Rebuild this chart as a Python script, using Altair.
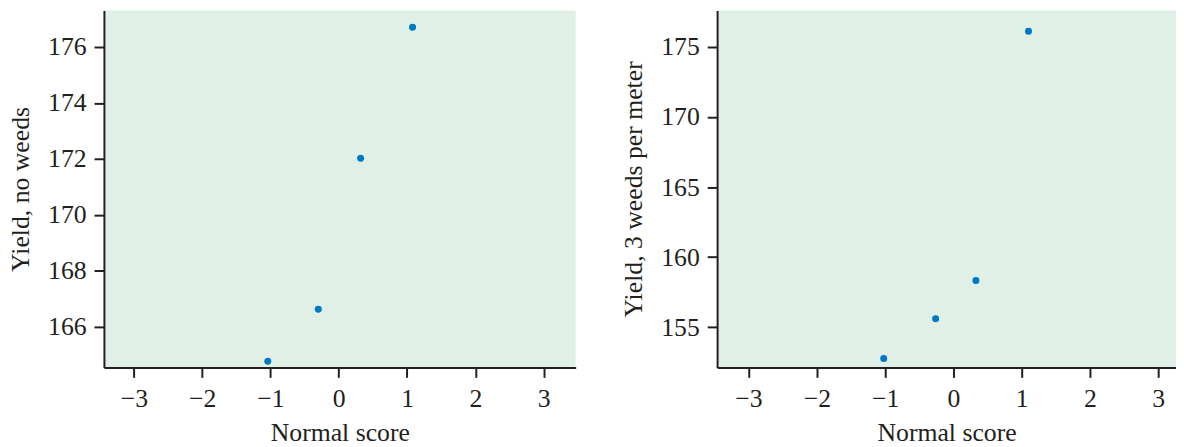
import altair as alt
import pandas as pd

# Left panel: yield with no weeds
score_no_weeds = [-1.04, -0.30, 0.32, 1.08]
yield_no_weeds = [164.76, 166.62, 172.02, 176.71]

# Right panel: yield with 3 weeds per meter
score_3_weeds = [-1.02, -0.26, 0.33, 1.10]
yield_3_weeds = [152.76, 155.61, 158.34, 176.13]

x_ticks = [-3, -2, -1, 0, 1, 2, 3]
y_ticks_left = [166, 168, 170, 172, 174, 176]
y_ticks_right = [155, 160, 165, 170, 175]

df_left = pd.DataFrame({"score": score_no_weeds, "yield": yield_no_weeds})
df_right = pd.DataFrame({"score": score_3_weeds, "yield": yield_3_weeds})

POINT = "#0078c8"
FONT = "Liberation Serif"


def panel(df, ytitle, xdom, ydom, yticks, w, h):
    return (
        alt.Chart(df)
        .mark_circle(size=50, opacity=1, color=POINT)
        .encode(
            x=alt.X(
                "score:Q",
                title="Normal score",
                scale=alt.Scale(domain=xdom, nice=False, zero=False),
                axis=alt.Axis(values=x_ticks, format="d"),
            ),
            y=alt.Y(
                "yield:Q",
                title=ytitle,
                scale=alt.Scale(domain=ydom, nice=False, zero=False),
                axis=alt.Axis(values=yticks, format="d"),
            ),
        )
        .properties(width=w, height=h)
    )


left = panel(df_left, "Yield, no weeds", [-3.44, 3.47], [164.54, 177.31],
             y_ticks_left, 477, 361)
right = panel(df_right, "Yield, 3 weeds per meter", [-3.46, 3.26], [152.13, 177.61],
              y_ticks_right, 464, 361)

chart = (
    alt.hconcat(left, right, spacing=46)
    .properties(padding={"left": 0, "top": 0, "right": 0, "bottom": 0})
    .configure_view(fill="#e1f0e7", stroke=None)
    .configure_axis(
        grid=False,
        domainColor="#231f20",
        domainWidth=2,
        tickColor="#231f20",
        tickWidth=2,
        tickSize=10,
        labelFont=FONT,
        labelFontSize=26,
        labelColor="#231f20",
        labelPadding=8,
        titleFont=FONT,
        titleFontSize=26,
        titleFontWeight="normal",
        titleColor="#231f20",
    )
    .configure_axisX(titlePadding=9)
    .configure_axisY(titlePadding=14)
)

chart.save("out.html", embed_options={"renderer": "svg", "actions": False})
